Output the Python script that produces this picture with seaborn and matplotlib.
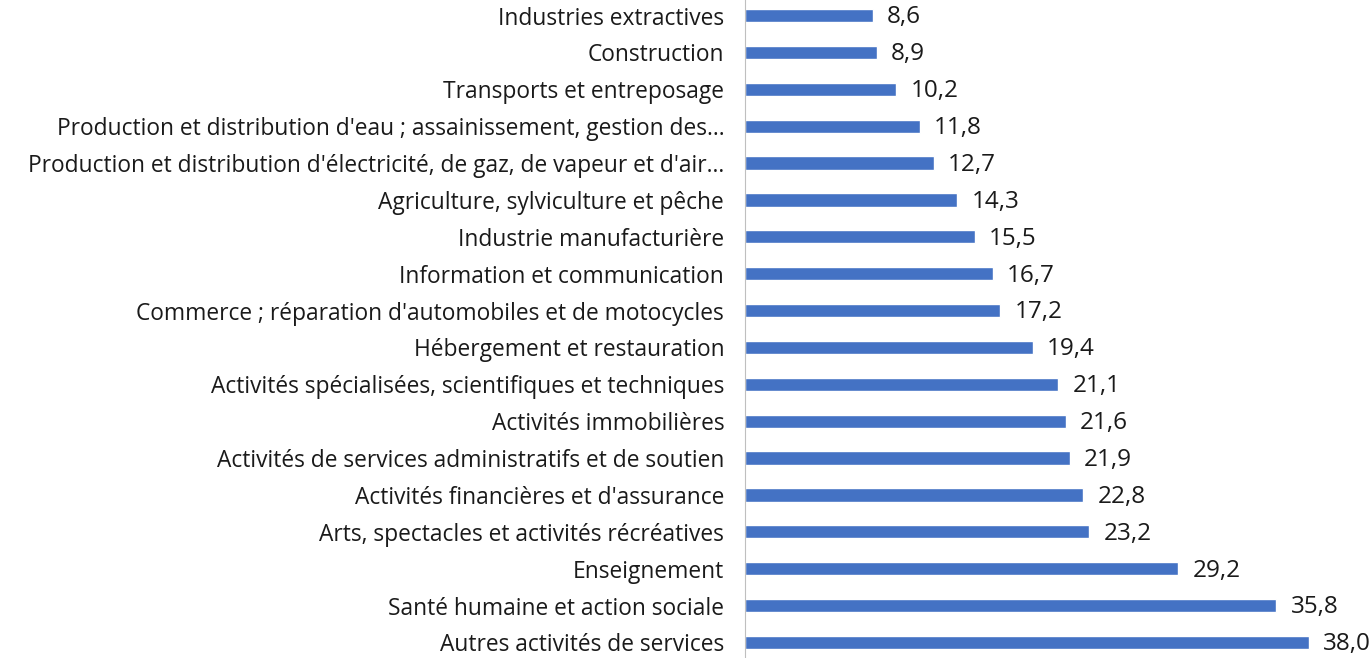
import matplotlib
matplotlib.use("Agg")
import matplotlib.pyplot as plt
import seaborn as sns
import numpy as np
import pandas as pd

secteurs = [
    "Industries extractives",
    "Construction",
    "Transports et entreposage",
    "Production et distribution d'eau ; assainissement, gestion des…",
    "Production et distribution d'électricité, de gaz, de vapeur et d'air…",
    "Agriculture, sylviculture et pêche",
    "Industrie manufacturière",
    "Information et communication",
    "Commerce ; réparation d'automobiles et de motocycles",
    "Hébergement et restauration",
    "Activités spécialisées, scientifiques et techniques",
    "Activités immobilières",
    "Activités de services administratifs et de soutien",
    "Activités financières et d'assurance",
    "Arts, spectacles et activités récréatives",
    "Enseignement",
    "Santé humaine et action sociale",
    "Autres activités de services",
]
valeurs = [8.6, 8.9, 10.2, 11.8, 12.7, 14.3, 15.5, 16.7, 17.2, 19.4,
           21.1, 21.6, 21.9, 22.8, 23.2, 29.2, 35.8, 38.0]

df = pd.DataFrame({"secteur": secteurs, "valeur": valeurs})

sns.set_style("white")
plt.rcParams["font.family"] = ["Open Sans", "DejaVu Sans"]

fig = plt.figure(figsize=(13.7, 6.58), dpi=100)
ax = fig.add_axes([745 / 1370, -2.9 / 658, 1 - 745 / 1370, 663.8 / 658])

sns.barplot(data=df, x="valeur", y="secteur", orient="h", color="#4472C4",
            saturation=1, width=0.36, ax=ax)

for i, v in enumerate(valeurs):
    ax.text(v + 0.95, i + 0.05, f"{v:.1f}".replace(".", ","), va="center",
            ha="left", fontsize=17.5, color="#1a1a1a")

ax.set_xlim(0, 42.1)
ax.set_ylim(len(secteurs) - 0.5, -0.5)
ax.set_xlabel("")
ax.set_ylabel("")
ax.set_xticks([])
ax.tick_params(axis="y", which="major", length=0, pad=15, labelsize=16.4,
               labelcolor="#1a1a1a")
ax.set_yticks(np.arange(-0.5, len(secteurs), 1), minor=True)
ax.tick_params(axis="y", which="minor", length=5, color="#bfbfbf", width=1)
for s in ["top", "right", "bottom"]:
    ax.spines[s].set_visible(False)
ax.spines["left"].set_color("#bfbfbf")

fig.savefig("out.png", dpi=100)
